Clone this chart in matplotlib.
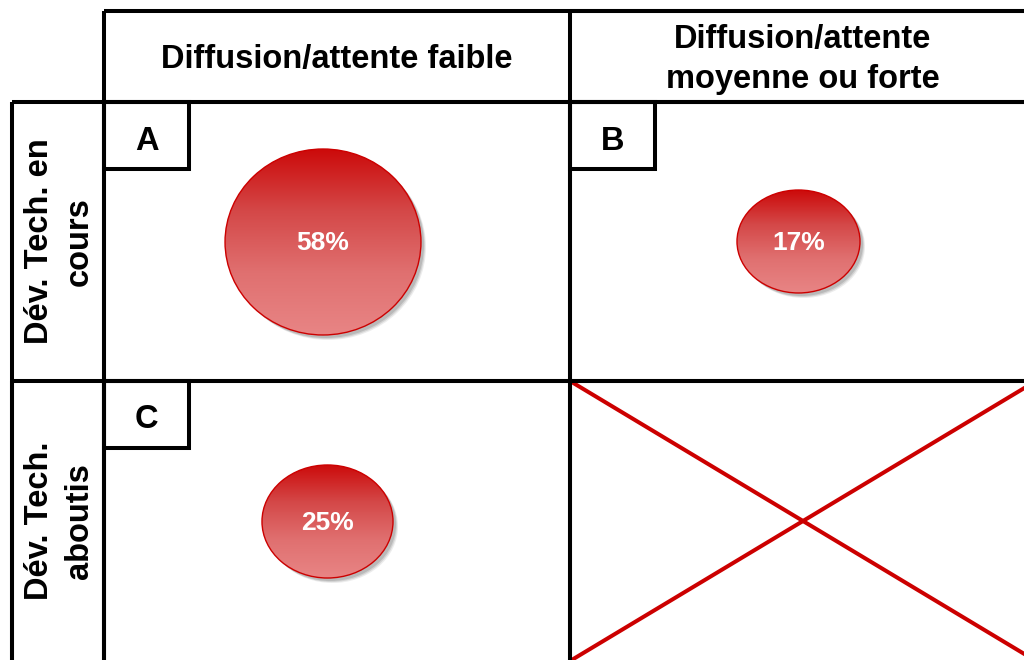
import numpy as np
import matplotlib
matplotlib.use("Agg")
import matplotlib.pyplot as plt
from matplotlib.patches import Rectangle, Ellipse
from matplotlib.colors import LinearSegmentedColormap

plt.rcParams['font.family'] = ['Liberation Sans', 'DejaVu Sans']

# --- data -------------------------------------------------------------
col_labels = ["Diffusion/attente faible", "Diffusion/attente\nmoyenne ou forte"]
row_labels = ["Dév. Tech. en\ncours", "Dév. Tech.\naboutis"]
quadrant_letters = ["A", "B", "C"]
quadrant_cells = [(0, 0), (0, 1), (1, 0)]      # (row, column)
shares = [58, 17, 25]                           # percent
empty_cell = (1, 1)

# --- layout (pixel units) ---------------------------------------------
W, H = 1024, 660
col_x = [104, 570, 1036]
row_y = [102, 381, 664]
head_top = 11
side_left = 12
lw = 2.9
letter_box = (85, 67)
bubble_center = [(323, 242), (798.5, 241.5), (327.5, 521.5)]
bubble_stretch = [(1.021, 0.969), (1.184, 0.991), (1.040, 0.897)]
k_size = 12.6   # radius per sqrt(percent)

fig = plt.figure(figsize=(W / 100, H / 100), dpi=100)
ax = fig.add_axes([0, 0, 1, 1])
ax.set_xlim(0, W)
ax.set_ylim(H, 0)
ax.axis('off')

def box(x0, y0, x1, y1, z=3):
    ax.add_patch(Rectangle((x0, y0), x1 - x0, y1 - y0, fill=False,
                           edgecolor='black', linewidth=lw, joinstyle='miter',
                           zorder=z))

# header and side label frames
box(col_x[0], head_top, col_x[2], row_y[0])
box(col_x[1], head_top, col_x[2], row_y[0])
box(side_left, row_y[0], col_x[0], row_y[2])
box(side_left, row_y[1], col_x[0], row_y[2])
for r in range(2):
    for c in range(2):
        box(col_x[c], row_y[r], col_x[c + 1], row_y[r + 1])

txt = dict(fontweight='bold', color='black', ha='center', va='center',
           fontsize=23.5, linespacing=1.34)
for c, lab in enumerate(col_labels):
    ax.text((col_x[c] + col_x[c + 1]) / 2, (head_top + 102) / 2 + 3, lab, **txt)
for r, lab in enumerate(row_labels):
    ax.text((side_left + col_x[0]) / 2 + 1.5, (row_y[r] + min(row_y[r + 1], 661)) / 2, lab,
            rotation=90, **txt)

# gradient used for the bubbles
cmap = LinearSegmentedColormap.from_list(
    'redfade', ['#cc0a0a', '#d44848', '#e07070', '#e88585'])
grad = np.linspace(0, 1, 256).reshape(-1, 1)

for letter, (r, c), val, (cx, cy), (sx, sy) in zip(
        quadrant_letters, quadrant_cells, shares, bubble_center, bubble_stretch):
    x0, y0 = col_x[c], row_y[r]
    # letter tag in the cell corner
    box(x0, y0, x0 + letter_box[0], y0 + letter_box[1], z=4)
    ax.text(x0 + letter_box[0] / 2, y0 + letter_box[1] / 2 + 5.5, letter,
            fontsize=23.5, fontweight='bold', ha='center', va='center', zorder=5)

    base = k_size * np.sqrt(val)
    rx, ry = base * sx, base * sy

    # soft drop shadow
    for off, a in [(5, 0.18), (4, 0.3), (3, 0.45)]:
        ax.add_patch(Ellipse((cx + off, cy + off), 2 * rx, 2 * ry,
                             facecolor='#9a9a9a', edgecolor='none', alpha=a, zorder=6))
    clip = Ellipse((cx, cy), 2 * rx, 2 * ry, facecolor='white', edgecolor='none', zorder=7)
    ax.add_patch(clip)
    im = ax.imshow(grad, cmap=cmap, aspect='auto', origin='upper',
                   extent=(cx - rx, cx + rx, cy + ry, cy - ry), zorder=8,
                   interpolation='bilinear')
    im.set_clip_path(clip)
    ax.add_patch(Ellipse((cx, cy), 2 * rx, 2 * ry, facecolor='none',
                         edgecolor='#cc0000', linewidth=1.0, zorder=9))
    ax.text(cx, cy + 1.5, f"{val}%", color='white', fontsize=19, fontweight='bold',
            ha='center', va='center', zorder=10)

# crossed-out empty quadrant
r, c = empty_cell
xa, xb = col_x[c], col_x[c + 1]
ya, yb = row_y[r], 661
ax.plot([xa, xb], [ya, yb], color='#cc0000', linewidth=2.9, zorder=2,
        solid_capstyle='butt')
ax.plot([xa, xb], [yb, ya], color='#cc0000', linewidth=2.9, zorder=2,
        solid_capstyle='butt')

ax.set_xlim(0, W)
ax.set_ylim(H, 0)
fig.savefig('out.png', dpi=100, facecolor='white')
